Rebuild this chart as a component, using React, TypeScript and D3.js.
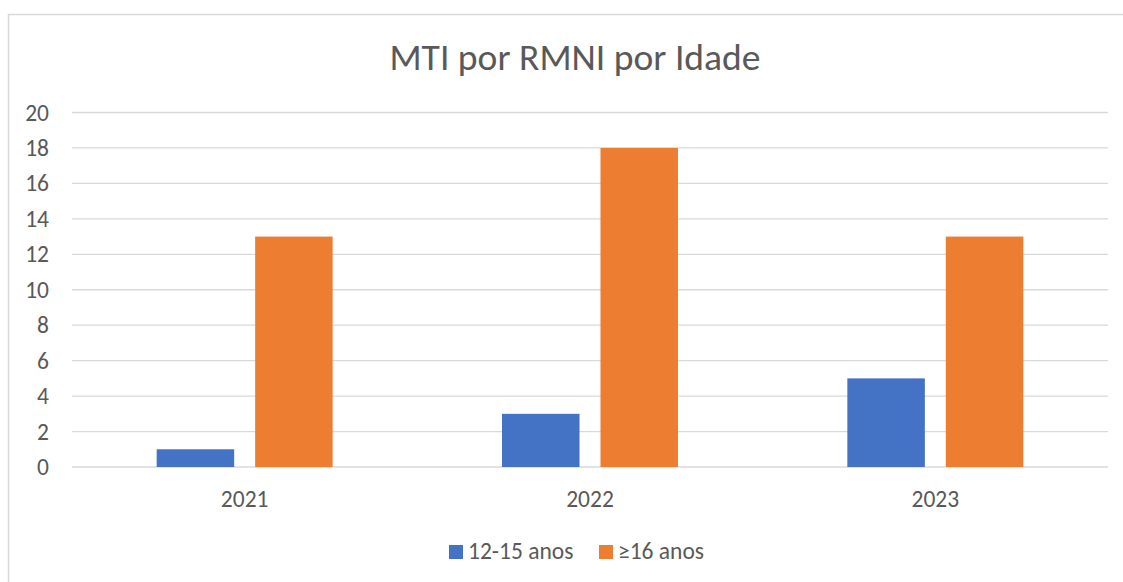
import React, { useEffect, useRef } from "react";
import * as d3 from "d3";

const categories = ["2021", "2022", "2023"];
const seriesNames = ["12-15 anos", "≥16 anos"];
const seriesA = [1, 3, 5];
const seriesB = [13, 18, 13];
const yTicks = [0, 2, 4, 6, 8, 10, 12, 14, 16, 18, 20];
const colors = ["#4472C4", "#ED7D31"];
const title = "MTI por RMNI por Idade";

const W = 1123;
const H = 582;
const FONT = "Calibri, Carlito, 'Liberation Sans', Arial, sans-serif";

export default function App() {
  const ref = useRef<SVGSVGElement | null>(null);

  useEffect(() => {
    const svg = d3.select(ref.current);
    svg.selectAll("*").remove();

    const left = 72, right = 1108, top = 112.5, bottom = 467;

    svg.append("rect").attr("x", 0).attr("y", 0).attr("width", W).attr("height", H).attr("fill", "#fff");
    svg.append("rect")
      .attr("x", 8.5).attr("y", 14.5).attr("width", 1140).attr("height", 620)
      .attr("fill", "none").attr("stroke", "#D9D9D9").attr("stroke-width", 1.5);

    svg.append("text")
      .attr("x", 575).attr("y", 70)
      .attr("text-anchor", "middle")
      .attr("font-family", FONT).attr("font-size", 37.6)
      .attr("fill", "#595959")
      .text(title);

    const y = d3.scaleLinear().domain([0, 20]).range([bottom, top]);
    const x0 = d3.scaleBand<string>().domain(categories).range([left, right]).paddingInner(0).paddingOuter(0);
    const x1 = d3.scaleBand<string>().domain(seriesNames).range([0, x0.bandwidth()]).paddingInner(0.213).paddingOuter(0.86);

    const g = svg.append("g");
    g.selectAll("line.grid").data(yTicks).enter().append("line")
      .attr("x1", left).attr("x2", right)
      .attr("y1", (d) => y(d)).attr("y2", (d) => y(d))
      .attr("stroke", "#D9D9D9").attr("stroke-width", 1.3);

    g.selectAll("text.ytick").data(yTicks).enter().append("text")
      .attr("x", 49).attr("y", (d) => y(d) + 8)
      .attr("text-anchor", "end")
      .attr("font-family", FONT).attr("font-size", 23.5)
      .attr("fill", "#595959")
      .text((d) => String(d));

    const seriesData = [seriesA, seriesB];
    seriesNames.forEach((name, si) => {
      g.selectAll(`rect.s${si}`).data(categories).enter().append("rect")
        .attr("x", (c) => (x0(c) as number) + (x1(name) as number))
        .attr("width", x1.bandwidth())
        .attr("y", (_c, i) => y(seriesData[si][i]))
        .attr("height", (_c, i) => bottom - y(seriesData[si][i]))
        .attr("fill", colors[si]);
    });

    g.selectAll("text.xtick").data(categories).enter().append("text")
      .attr("x", (c) => (x0(c) as number) + x0.bandwidth() / 2)
      .attr("y", 507)
      .attr("text-anchor", "middle")
      .attr("font-family", FONT).attr("font-size", 23.5)
      .attr("fill", "#595959")
      .text((c) => c);

    const legendX = [449, 599];
    seriesNames.forEach((name, i) => {
      svg.append("rect")
        .attr("x", legendX[i]).attr("y", 545).attr("width", 14).attr("height", 14)
        .attr("fill", colors[i]);
      svg.append("text")
        .attr("x", legendX[i] + 19).attr("y", 559)
        .attr("font-family", FONT).attr("font-size", 23.5)
        .attr("fill", "#595959")
        .text(name);
    });
  }, []);

  return (
    <div style={{ position: "absolute", left: 0, top: 0 }}>
      <svg ref={ref} width={W} height={H} style={{ display: "block" }} />
    </div>
  );
}
